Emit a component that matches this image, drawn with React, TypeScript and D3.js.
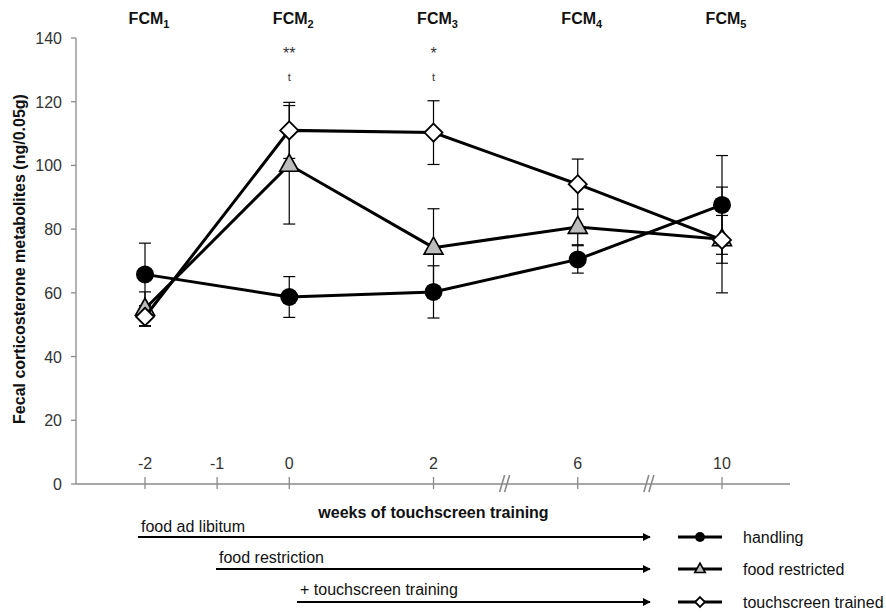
import React from 'react';
import * as d3 from 'd3';

// x slots: weeks, with empty slot "1" and two axis breaks
const slots = ['-2', '-1', '0', '1', '2', 'b1', '6', 'b2', '10'];
const tickWeeks = ['-2', '-1', '0', '2', '6', '10'];
const breakSlots = ['b1', 'b2'];
const weeks = ['-2', '0', '2', '6', '10'];
const yTicks = [0, 20, 40, 60, 80, 100, 120, 140];

const handlingMean = [65.8, 58.7, 60.3, 70.5, 87.6];
const handlingSem = [9.8, 6.4, 8.2, 4.3, 15.5];
const restrictedMean = [55.0, 100.2, 74.2, 80.7, 76.8];
const restrictedSem = [5.3, 18.6, 12.2, 5.6, 7.5];
const trainedMean = [52.5, 111.0, 110.3, 94.1, 76.6];
const trainedSem = [3.0, 8.8, 10.0, 7.9, 16.6];

const fcmLabels = ['1', '2', '3', '4', '5'];
const signif = [
  { week: '0', star: '**', t: 't' },
  { week: '2', star: '*', t: 't' },
];

const font = "'Liberation Sans', Arial, sans-serif";
const axisColor = '#8a8a8a';
const textColor = '#333';

const x = d3.scalePoint<string>().domain(slots).range([145, 722]);
const y = d3.scaleLinear().domain([0, 140]).range([484, 38]);

type Series = { name: string; mean: number[]; sem: number[]; shape: string };
const series: Series[] = [
  { name: 'handling', mean: handlingMean, sem: handlingSem, shape: 'circle' },
  { name: 'food restricted', mean: restrictedMean, sem: restrictedSem, shape: 'triangle' },
  { name: 'touchscreen trained', mean: trainedMean, sem: trainedSem, shape: 'diamond' },
];

const Marker = ({ shape, cx, cy, s }: { shape: string; cx: number; cy: number; s: number }) => {
  if (shape === 'circle') return <circle cx={cx} cy={cy} r={9 * s} fill="#000" />;
  if (shape === 'triangle') {
    const h = 17 * s, w = 19 * s;
    return (
      <path
        d={`M${cx},${cy - h * 0.62} L${cx + w / 2},${cy + h * 0.38} L${cx - w / 2},${cy + h * 0.38} Z`}
        fill="#bdbdbd" stroke="#000" strokeWidth={1.6} strokeLinejoin="miter"
      />
    );
  }
  const r = 9 * s;
  return (
    <path d={`M${cx},${cy - r} L${cx + r},${cy} L${cx},${cy + r} L${cx - r},${cy} Z`}
      fill="#fff" stroke="#000" strokeWidth={1.8} />
  );
};

const line = d3.line<[number, number]>();

export default function App() {
  const arrows = [
    { label: 'food ad libitum', x0: 138, ty: 532, ay: 537 },
    { label: 'food restriction', x0: 216, ty: 563, ay: 569 },
    { label: '+ touchscreen training', x0: 297, ty: 595, ay: 602 },
  ];
  const arrowEnd = 650;

  return (
    <svg width={886} height={613} style={{ position: 'absolute', left: 0, top: 0 }} fontFamily={font}>
      <defs>
        <marker id="ah" viewBox="0 0 10 10" refX="9" refY="5" markerWidth="4" markerHeight="4" orient="auto">
          <path d="M0,0 L10,5 L0,10 Z" fill="#000" />
        </marker>
      </defs>

      {/* y axis */}
      <line x1={76} x2={76} y1={y(140)} y2={y(0)} stroke={axisColor} strokeWidth={1.3} />
      {yTicks.map((t) => (
        <g key={t}>
          <line x1={71} x2={76} y1={y(t)} y2={y(t)} stroke={axisColor} strokeWidth={1.3} />
          <text x={62} y={y(t) + 6} textAnchor="end" fontSize={16} fill={textColor}>{t}</text>
        </g>
      ))}
      <text transform={`translate(25,${(y(0) + y(140)) / 2 - 2}) rotate(-90)`} textAnchor="middle"
        fontSize={16} fontWeight="bold" fill="#111">
        Fecal corticosterone metabolites (ng/0.05g)
      </text>

      {/* x axis */}
      <line x1={76} x2={790} y1={y(0)} y2={y(0)} stroke={axisColor} strokeWidth={1.3} />
      {tickWeeks.map((w) => (
        <g key={w}>
          <line x1={x(w)} x2={x(w)} y1={y(0) - 7} y2={y(0) + 5} stroke={axisColor} strokeWidth={1.3} />
          <text x={x(w)} y={469} textAnchor="middle" fontSize={16} fill={textColor}>{w}</text>
        </g>
      ))}
      {breakSlots.map((b) => (
        <g key={b}>
          {[-3, 2].map((dx) => (
            <line key={dx} x1={(x(b) as number) + dx - 3} y1={y(0) + 8} x2={(x(b) as number) + dx + 2}
              y2={y(0) - 9} stroke={axisColor} strokeWidth={1.6} />
          ))}
        </g>
      ))}
      <text x={x('2')} y={518} textAnchor="middle" fontSize={16} fontWeight="bold" fill="#111">
        weeks of touchscreen training
      </text>

      {/* FCM labels */}
      {weeks.map((w, i) => (
        <text key={w} x={(x(w) as number) + 4} y={24} textAnchor="middle" fontSize={16} fontWeight="bold" fill="#111">
          FCM<tspan fontSize={11} dy={4}>{fcmLabels[i]}</tspan>
        </text>
      ))}
      {signif.map((s) => (
        <g key={s.week}>
          <text x={x(s.week)} y={59} textAnchor="middle" fontSize={16} fill={textColor}>{s.star}</text>
          <text x={x(s.week)} y={81} textAnchor="middle" fontSize={11} fill={textColor}>{s.t}</text>
        </g>
      ))}

      {/* error bars */}
      {series.map((s) => (
        <g key={s.name + 'err'} stroke="#000" strokeWidth={1.2}>
          {weeks.map((w, i) => {
            const cx = x(w) as number;
            const hi = y(s.mean[i] + s.sem[i]);
            const lo = y(s.mean[i] - s.sem[i]);
            return (
              <g key={w}>
                <line x1={cx} x2={cx} y1={hi} y2={lo} />
                <line x1={cx - 6} x2={cx + 6} y1={hi} y2={hi} />
                <line x1={cx - 6} x2={cx + 6} y1={lo} y2={lo} />
              </g>
            );
          })}
        </g>
      ))}

      {/* lines and markers */}
      {series.map((s) => (
        <g key={s.name}>
          <path d={line(weeks.map((w, i) => [x(w) as number, y(s.mean[i])])) || ''}
            fill="none" stroke="#000" strokeWidth={3} />
          {weeks.map((w, i) => (
            <Marker key={w} shape={s.shape} cx={x(w) as number} cy={y(s.mean[i])} s={1} />
          ))}
        </g>
      ))}

      {/* treatment arrows */}
      {arrows.map((a) => (
        <g key={a.label}>
          <text x={a.x0 + 3} y={a.ty} fontSize={16} fill="#111">{a.label}</text>
          <line x1={a.x0} x2={arrowEnd} y1={a.ay} y2={a.ay} stroke="#000" strokeWidth={2} markerEnd="url(#ah)" />
        </g>
      ))}

      {/* legend */}
      {series.map((s, i) => {
        const ly = arrows[i].ay;
        return (
          <g key={s.name + 'leg'}>
            <line x1={678} x2={722} y1={ly} y2={ly} stroke="#000" strokeWidth={3} />
            <Marker shape={s.shape} cx={700} cy={ly} s={0.55} />
            <text x={743} y={ly + 6} fontSize={16} fill="#111">{s.name}</text>
          </g>
        );
      })}
    </svg>
  );
}
